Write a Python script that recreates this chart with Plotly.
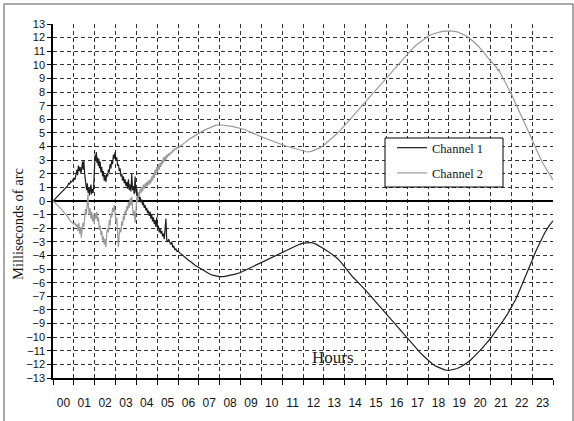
import plotly.graph_objects as go

# ---------------- data ----------------
hour_labels = ["00", "01", "02", "03", "04", "05", "06", "07", "08", "09", "10", "11",
               "12", "13", "14", "15", "16", "17", "18", "19", "20", "21", "22", "23"]
label_positions = [0.5, 1.5, 2.5, 3.5, 4.5, 5.5, 6.5, 7.5, 8.5, 9.5, 10.5, 11.5,
                   12.5, 13.5, 14.5, 15.5, 16.5, 17.5, 18.5, 19.5, 20.5, 21.5, 22.5, 23.5]
hour_ticks = [0, 1, 2, 3, 4, 5, 6, 7, 8, 9, 10, 11, 12, 13, 14, 15, 16, 17, 18, 19, 20,
              21, 22, 23, 24]
hour_grid = [1, 2, 3, 4, 5, 6, 7, 8, 9, 10, 11, 12, 13, 14, 15, 16, 17, 18, 19, 20, 21,
             22, 23]
value_ticks = [-13, -12, -11, -10, -9, -8, -7, -6, -5, -4, -3, -2, -1, 0, 1, 2, 3, 4, 5,
               6, 7, 8, 9, 10, 11, 12, 13]
value_grid = [-12, -11, -10, -9, -8, -7, -6, -5, -4, -3, -2, -1, 1, 2, 3, 4, 5, 6, 7, 8,
              9, 10, 11, 12]

ch1_hours = [
    0.00, 0.10, 0.20, 0.30, 0.35, 0.40, 0.45, 0.50, 0.55, 0.60, 0.65, 0.70, 0.75, 0.80,
    0.85, 0.90, 0.95, 1.00, 1.05, 1.10, 1.15, 1.18, 1.22, 1.26, 1.30, 1.34, 1.38, 1.42,
    1.45, 1.48, 1.52, 1.55, 1.58, 1.62, 1.65, 1.68, 1.72, 1.75, 1.78, 1.82, 1.85, 1.88,
    1.92, 1.95, 1.98, 2.02, 2.05, 2.08, 2.11, 2.14, 2.17, 2.20, 2.23, 2.26, 2.30, 2.34,
    2.38, 2.42, 2.46, 2.50, 2.54, 2.58, 2.62, 2.66, 2.70, 2.74, 2.78, 2.82, 2.86, 2.90,
    2.94, 2.98, 3.02, 3.06, 3.10, 3.14, 3.18, 3.22, 3.26, 3.30, 3.34, 3.38, 3.42, 3.46,
    3.50, 3.54, 3.58, 3.62, 3.66, 3.70, 3.74, 3.78, 3.82, 3.86, 3.90, 3.94, 3.98, 4.02,
    4.06, 4.10, 4.14, 4.18, 4.22, 4.26, 4.30, 4.34, 4.38, 4.42, 4.46, 4.50, 4.54, 4.58,
    4.62, 4.66, 4.70, 4.74, 4.78, 4.82, 4.86, 4.90, 4.94, 4.98, 5.02, 5.06, 5.10, 5.14,
    5.18, 5.22, 5.26, 5.30, 5.34, 5.38, 5.42, 5.46, 5.50, 5.55, 5.60, 5.65, 5.70, 5.75,
    5.80, 5.85, 5.90, 5.95, 6.00, 6.10, 6.20, 6.30, 6.40, 6.50, 6.60, 6.70, 6.80, 6.90,
    7.00, 7.10, 7.20, 7.35, 7.50, 7.65, 7.80, 8.00, 8.20, 8.40, 8.60, 8.80, 9.00, 9.20,
    9.40, 9.60, 9.80, 10.00, 10.20, 10.40, 10.60, 10.80, 11.00, 11.20, 11.40, 11.60,
    11.80, 12.00, 12.20, 12.40, 12.60, 12.80, 13.00, 13.20, 13.40, 13.60, 13.80, 14.00,
    14.20, 14.40, 14.60, 14.80, 15.00, 15.20, 15.40, 15.60, 15.80, 16.00, 16.20, 16.40,
    16.60, 16.80, 17.00, 17.20, 17.40, 17.60, 17.80, 18.00, 18.20, 18.40, 18.60, 18.80,
    19.00, 19.20, 19.40, 19.60, 19.80, 20.00, 20.20, 20.40, 20.60, 20.80, 21.00, 21.20,
    21.40, 21.60, 21.80, 22.00, 22.20, 22.40, 22.60, 22.80, 23.00, 23.20, 23.40, 23.60,
    23.80, 24.00]
ch1_values = [
    0.00, 0.15, 0.32, 0.45, 0.55, 0.60, 0.72, 0.80, 0.90, 0.95, 1.05, 1.10, 1.30, 1.25,
    1.45, 1.40, 1.55, 1.70, 1.55, 1.90, 2.30, 1.90, 2.60, 2.20, 2.50, 2.00, 2.70, 2.90,
    2.30, 2.95, 2.00, 1.40, 1.20, 0.80, 1.30, 0.60, 1.00, 0.40, 0.70, 1.20, 0.50, 0.90,
    0.60, 1.00, 2.00, 3.40, 3.00, 3.60, 2.80, 3.20, 2.60, 3.10, 2.40, 2.90, 2.10, 2.50,
    1.80, 2.20, 1.50, 1.90, 1.40, 2.00, 1.80, 2.30, 2.10, 2.70, 2.40, 3.00, 2.70, 3.40,
    3.10, 3.60, 3.00, 3.20, 2.60, 2.70, 2.20, 2.40, 1.80, 2.00, 1.50, 1.80, 1.30, 1.60,
    1.10, 1.40, 0.90, 1.60, 0.80, 1.20, 0.70, 2.00, 0.80, 1.10, 0.50, 1.80, 0.60, 0.90,
    0.30, 0.60, 0.10, 0.30, -0.10, 0.10, -0.30, -0.10, -0.50, -0.30, -0.70, -0.50, -0.90, -0.70,
    -1.10, -0.80, -1.30, -1.00, -1.50, -1.20, -1.70, -1.40, -1.90, -1.20, -2.00, -1.80, -2.30, -2.00,
    -2.40, -2.20, -2.60, -2.40, -2.80, -2.20, -1.30, -2.90, -3.00, -2.80, -3.10, -3.20, -3.00, -3.40,
    -3.30, -3.60, -3.50, -3.70, -3.65, -3.85, -3.95, -4.10, -4.20, -4.35, -4.45, -4.60, -4.70, -4.80,
    -4.90, -5.00, -5.10, -5.20, -5.35, -5.45, -5.50, -5.55, -5.55, -5.50, -5.45, -5.35, -5.25, -5.10,
    -4.95, -4.80, -4.65, -4.50, -4.35, -4.20, -4.05, -3.90, -3.75, -3.60, -3.45, -3.30,
    -3.20, -3.10, -3.05, -3.05, -3.15, -3.30, -3.50, -3.70, -3.90, -4.15, -4.45, -4.85,
    -5.25, -5.60, -5.90, -6.20, -6.55, -6.90, -7.25, -7.60, -7.95, -8.35, -8.70, -9.05,
    -9.40, -9.75, -10.10, -10.45, -10.80, -11.10, -11.40, -11.70, -11.95, -12.15, -12.30, -12.40,
    -12.45, -12.40, -12.30, -12.15, -11.95, -11.75, -11.45, -11.15, -10.80, -10.45, -10.10, -9.65,
    -9.25, -8.80, -8.35, -7.85, -7.25, -6.55, -5.85, -5.10, -4.35, -3.60, -2.95, -2.35,
    -1.85, -1.45]

ch2_hours = [
    0.00, 0.10, 0.20, 0.30, 0.40, 0.50, 0.60, 0.70, 0.80, 0.90, 1.00, 1.05, 1.10, 1.15,
    1.20, 1.24, 1.28, 1.32, 1.36, 1.40, 1.44, 1.48, 1.52, 1.56, 1.60, 1.64, 1.68, 1.70,
    1.74, 1.78, 1.82, 1.86, 1.90, 1.94, 1.98, 2.02, 2.06, 2.10, 2.14, 2.18, 2.22, 2.26,
    2.30, 2.34, 2.38, 2.42, 2.46, 2.50, 2.54, 2.58, 2.62, 2.66, 2.70, 2.74, 2.78, 2.82,
    2.86, 2.90, 2.94, 2.98, 3.02, 3.06, 3.10, 3.14, 3.18, 3.22, 3.26, 3.30, 3.34, 3.38,
    3.42, 3.46, 3.50, 3.54, 3.58, 3.62, 3.66, 3.70, 3.74, 3.78, 3.82, 3.86, 3.90, 3.94,
    3.98, 4.02, 4.06, 4.10, 4.14, 4.18, 4.22, 4.26, 4.30, 4.34, 4.38, 4.42, 4.46, 4.50,
    4.54, 4.58, 4.62, 4.66, 4.70, 4.74, 4.78, 4.82, 4.86, 4.90, 4.94, 4.98, 5.02, 5.06,
    5.10, 5.14, 5.18, 5.22, 5.26, 5.30, 5.34, 5.38, 5.42, 5.46, 5.50, 5.55, 5.60, 5.65,
    5.70, 5.75, 5.80, 5.85, 5.90, 5.95, 6.00, 6.10, 6.20, 6.30, 6.40, 6.50, 6.60, 6.70,
    6.80, 6.90, 7.00, 7.20, 7.40, 7.60, 7.80, 8.00, 8.20, 8.40, 8.60, 8.80, 9.00, 9.20,
    9.40, 9.60, 9.80, 10.00, 10.20, 10.40, 10.60, 10.80, 11.00, 11.20, 11.40, 11.60,
    11.80, 12.00, 12.20, 12.40, 12.60, 12.80, 13.00, 13.20, 13.40, 13.60, 13.80, 14.00,
    14.20, 14.40, 14.60, 14.80, 15.00, 15.20, 15.40, 15.60, 15.80, 16.00, 16.20, 16.40,
    16.60, 16.80, 17.00, 17.20, 17.40, 17.60, 17.80, 18.00, 18.20, 18.40, 18.60, 18.80,
    19.00, 19.20, 19.40, 19.60, 19.80, 20.00, 20.20, 20.40, 20.60, 20.80, 21.00, 21.20,
    21.30, 21.35, 21.40, 21.45, 21.60, 21.80, 22.00, 22.20, 22.40, 22.60, 22.80, 23.00,
    23.20, 23.40, 23.60, 23.80, 24.00]
ch2_values = [
    0.00, -0.15, -0.30, -0.42, -0.60, -0.80, -0.95, -1.15, -1.40, -1.55, -1.70, -1.60, -1.85, -1.70,
    -2.20, -1.60, -2.40, -1.90, -2.70, -2.00, -1.60, -1.90, -1.20, -0.60, -1.00, -0.20, 0.50, -0.40,
    -1.00, -0.50, -1.30, -0.80, -1.50, -1.00, -1.70, -0.90, -1.30, -0.80, -1.50, -1.20, -2.10, -1.80,
    -2.50, -2.20, -2.90, -2.60, -3.20, -2.80, -3.40, -2.40, -2.00, -2.30, -1.40, -1.80, -0.90, -1.20,
    -0.50, -0.80, -0.30, -0.90, -1.60, -1.20, -2.60, -3.40, -2.40, -2.00, -2.30, -1.50, -1.80, -1.10,
    -1.40, -0.70, -1.00, -0.40, -0.70, -0.10, -0.50, 0.20, -0.30, 0.30, -0.50, -1.10, -0.70, -1.60,
    -0.80, 0.30, -0.10, 0.60, 0.30, 0.90, 0.60, 1.00, 0.70, 1.20, 0.90, 1.30, 1.00, 1.40,
    1.10, 1.50, 1.20, 1.60, 1.30, 1.80, 1.50, 2.00, 1.70, 2.30, 1.90, 2.50, 2.10, 2.70,
    2.30, 2.80, 2.50, 3.00, 2.70, 3.20, 2.90, 3.30, 3.00, 3.40, 3.20, 3.50, 3.35, 3.60,
    3.50, 3.75, 3.65, 3.85, 3.80, 3.95, 3.90, 4.05, 4.15, 4.25, 4.40, 4.50, 4.60, 4.70,
    4.80, 4.90, 5.00, 5.15, 5.30, 5.45, 5.55, 5.60, 5.58, 5.52, 5.48, 5.42, 5.35, 5.25,
    5.10, 4.95, 4.85, 4.72, 4.60, 4.45, 4.35, 4.22, 4.12, 4.02, 3.95, 3.85,
    3.75, 3.65, 3.60, 3.65, 3.75, 3.90, 4.10, 4.35, 4.60, 4.90, 5.20, 5.55,
    5.90, 6.25, 6.60, 6.95, 7.30, 7.65, 8.00, 8.35, 8.70, 9.05, 9.40, 9.75,
    10.10, 10.45, 10.80, 11.10, 11.40, 11.65, 11.90, 12.10, 12.25, 12.35, 12.42, 12.47,
    12.50, 12.48, 12.42, 12.30, 12.15, 11.95, 11.70, 11.40, 11.05, 10.65, 10.30, 9.95,
    9.80, 9.55, 9.70, 9.45, 9.05, 8.45, 7.85, 7.20, 6.50, 5.80, 5.15, 4.50,
    3.80, 3.10, 2.55, 2.00, 1.55]

series_names = ["Channel 1", "Channel 2"]
series_colors = ["#1e1e1e", "#9a9a9a"]

# ---------------- figure ----------------
SERIF = "Liberation Serif, Times New Roman, serif"
SANS = "Liberation Sans, Arial, sans-serif"

fig = go.Figure()
fig.add_trace(go.Scatter(x=ch1_hours, y=ch1_values, mode="lines", name=series_names[0],
                         legendgroup="a", line=dict(color=series_colors[0], width=1.2)))
fig.add_trace(go.Scatter(x=ch2_hours, y=ch2_values, mode="lines", name=series_names[1],
                         legendgroup="b", line=dict(color=series_colors[1], width=1.2)))

grid_dash = "4px,3px"
grid_color = "#333"

fig.update_layout(
    width=574, height=421,
    margin=dict(l=53, r=21, t=24, b=43),
    paper_bgcolor="white", plot_bgcolor="white",
    showlegend=True,
    legend=dict(x=0.678, y=0.692, xanchor="left", yanchor="top",
                bgcolor="rgba(0,0,0,0)", borderwidth=0,
                font=dict(family=SERIF, size=12.5, color="#111"),
                traceorder="grouped", tracegroupgap=6, itemwidth=30),
    # main x axis: tick marks at every hour boundary, dashed grid inside
    xaxis=dict(range=[0, 24], tickmode="array", tickvals=hour_ticks,
               ticks="outside", ticklen=5, tickcolor="black", tickwidth=1,
               showticklabels=False, showgrid=False, zeroline=False,
               showline=True, linecolor="black", linewidth=1.5,
               minor=dict(tickmode="array", tickvals=hour_grid, ticks="", showgrid=True,
                          gridcolor=grid_color, gridwidth=1, griddash=grid_dash)),
    # overlay x axis: hour labels centred between tick marks
    xaxis2=dict(range=[0, 24], overlaying="x", side="bottom", anchor="y",
                tickmode="array", tickvals=label_positions, ticktext=hour_labels,
                ticks="", showgrid=False, zeroline=False, showline=False,
                tickfont=dict(family=SANS, size=12, color="#111"),
                ticklabelstandoff=16),
    yaxis=dict(range=[-13, 13], tickmode="array", tickvals=value_ticks,
               ticks="outside", ticklen=4, tickcolor="black",
               showline=True, linecolor="black", linewidth=1.5,
               showgrid=False,
               minor=dict(tickmode="array", tickvals=value_grid, ticks="", showgrid=True,
                          gridcolor=grid_color, gridwidth=1, griddash=grid_dash),
               zeroline=True, zerolinecolor="black", zerolinewidth=1.5,
               tickfont=dict(family=SANS, size=11, color="#111")),
    font=dict(family=SANS),
)

# invisible carrier so that the label axis is drawn
fig.add_trace(go.Scatter(x=[], y=[], xaxis="x2", yaxis="y", showlegend=False,
                         hoverinfo="skip"))

# outer picture frame
fig.add_shape(type="rect", xref="paper", yref="paper",
              x0=-0.098, x1=1.04, y0=-0.2, y1=1.0565,
              line=dict(color="#555", width=1), fillcolor="rgba(0,0,0,0)", layer="above")
# legend box
fig.add_shape(type="rect", xref="paper", yref="paper",
              x0=0.664, x1=0.900, y0=0.5395, y1=0.678,
              line=dict(color="black", width=1), fillcolor="white", layer="above")

fig.add_annotation(text="Milliseconds of arc", textangle=-90, xref="paper", yref="paper",
                   x=-0.07, y=0.435, xanchor="center", yanchor="middle", showarrow=False,
                   font=dict(family=SERIF, size=14.5, color="#111"))
fig.add_annotation(text="Hours", xref="paper", yref="paper", x=0.56, y=0.058,
                   xanchor="center", yanchor="middle",
                   showarrow=False, font=dict(family=SERIF, size=17, color="#222"))

fig.write_html("out.html")
